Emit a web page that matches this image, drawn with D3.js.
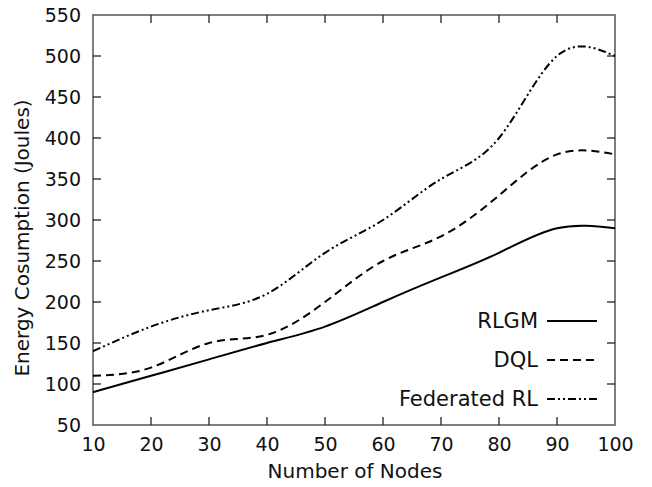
<!DOCTYPE html>
<html>
<head>
<meta charset="utf-8">
<script src="https://cdn.jsdelivr.net/npm/d3@7"></script>
<style>
  html, body { margin: 0; padding: 0; background: #fff; }
  svg { display: block; font-family: "DejaVu Sans", sans-serif; }
</style>
</head>
<body>
<svg id="chart" width="652" height="487"></svg>
<script>
// Energy consumption per network size for each method
const nodes = [10, 20, 30, 40, 50, 60, 70, 80, 90, 100];
const rlgm = [90, 110, 130, 150, 170, 200, 230, 260, 290, 290];
const dql = [110, 120, 150, 160, 200, 250, 280, 330, 380, 380];
const federatedRL = [140, 170, 190, 210, 260, 300, 350, 400, 500, 500];

const xTicks = [10, 20, 30, 40, 50, 60, 70, 80, 90, 100];
const yTicks = [50, 100, 150, 200, 250, 300, 350, 400, 450, 500, 550];

const seriesNames = ["RLGM", "DQL", "Federated RL"];
const seriesValues = [rlgm, dql, federatedRL];
const seriesDash = [null, "8,5", "8,3,2,3,2,3"];

const margin = { left: 93, right: 37, top: 15, bottom: 62 };
const W = 652, H = 487;
const svg = d3.select("#chart");

const x = d3.scaleLinear().domain([10, 100]).range([margin.left, W - margin.right]);
const y = d3.scaleLinear().domain([50, 550]).range([H - margin.bottom, margin.top]);

const tickLen = 8;
const tickFont = 19;
const titleFont = 20;
const legendFont = 21;

// frame
svg.append("rect")
  .attr("x", x(10)).attr("y", y(550))
  .attr("width", x(100) - x(10)).attr("height", y(50) - y(550))
  .attr("fill", "none").attr("stroke", "#555").attr("stroke-width", 1.5);

// inward ticks on all four sides
const tickG = svg.append("g").attr("stroke", "#111").attr("stroke-width", 1.2);
xTicks.forEach(t => {
  if (t === 10 || t === 100) return;
  tickG.append("line").attr("x1", x(t)).attr("x2", x(t)).attr("y1", y(50)).attr("y2", y(50) - tickLen);
  tickG.append("line").attr("x1", x(t)).attr("x2", x(t)).attr("y1", y(550)).attr("y2", y(550) + tickLen);
});
yTicks.forEach(t => {
  if (t === 50 || t === 550) return;
  tickG.append("line").attr("x1", x(10)).attr("x2", x(10) + tickLen).attr("y1", y(t)).attr("y2", y(t));
  tickG.append("line").attr("x1", x(100)).attr("x2", x(100) - tickLen).attr("y1", y(t)).attr("y2", y(t));
});

// tick labels via d3 axes (lines hidden)
const xAxis = svg.append("g")
  .attr("transform", `translate(0,${y(50)})`)
  .call(d3.axisBottom(x).tickValues(xTicks).tickSize(0).tickPadding(13));
const yAxis = svg.append("g")
  .attr("transform", `translate(${x(10)},0)`)
  .call(d3.axisLeft(y).tickValues(yTicks).tickSize(0).tickPadding(12));
[xAxis, yAxis].forEach(g => {
  g.select(".domain").remove();
  g.selectAll("text").attr("font-size", tickFont).attr("fill", "#111")
    .attr("font-family", "DejaVu Sans, sans-serif");
});

// axis titles
svg.append("text")
  .attr("x", (x(10) + x(100)) / 2 + 1).attr("y", 478)
  .attr("text-anchor", "middle").attr("font-size", titleFont).attr("fill", "#111")
  .text("Number of Nodes");
svg.append("text")
  .attr("transform", `translate(29,238) rotate(-90)`)
  .attr("text-anchor", "middle").attr("font-size", titleFont).attr("fill", "#111")
  .text("Energy Cosumption (Joules)");

// smoothed series curves
const line = d3.line()
  .x((d, i) => x(nodes[i]))
  .y(d => y(d))
  .curve(d3.curveNatural);

seriesValues.forEach((vals, k) => {
  svg.append("path")
    .datum(vals)
    .attr("d", line)
    .attr("fill", "none")
    .attr("stroke", "#000")
    .attr("stroke-width", 2)
    .attr("stroke-dasharray", seriesDash[k]);
});

// legend
const legendY = [321, 360, 399];
seriesNames.forEach((name, k) => {
  svg.append("text")
    .attr("x", 538).attr("y", legendY[k] + 7)
    .attr("text-anchor", "end").attr("font-size", legendFont).attr("fill", "#111")
    .text(name);
  svg.append("line")
    .attr("x1", 547).attr("x2", 597)
    .attr("y1", legendY[k]).attr("y2", legendY[k])
    .attr("stroke", "#000").attr("stroke-width", 2)
    .attr("stroke-dasharray", seriesDash[k]);
});
</script>
</body>
</html>
